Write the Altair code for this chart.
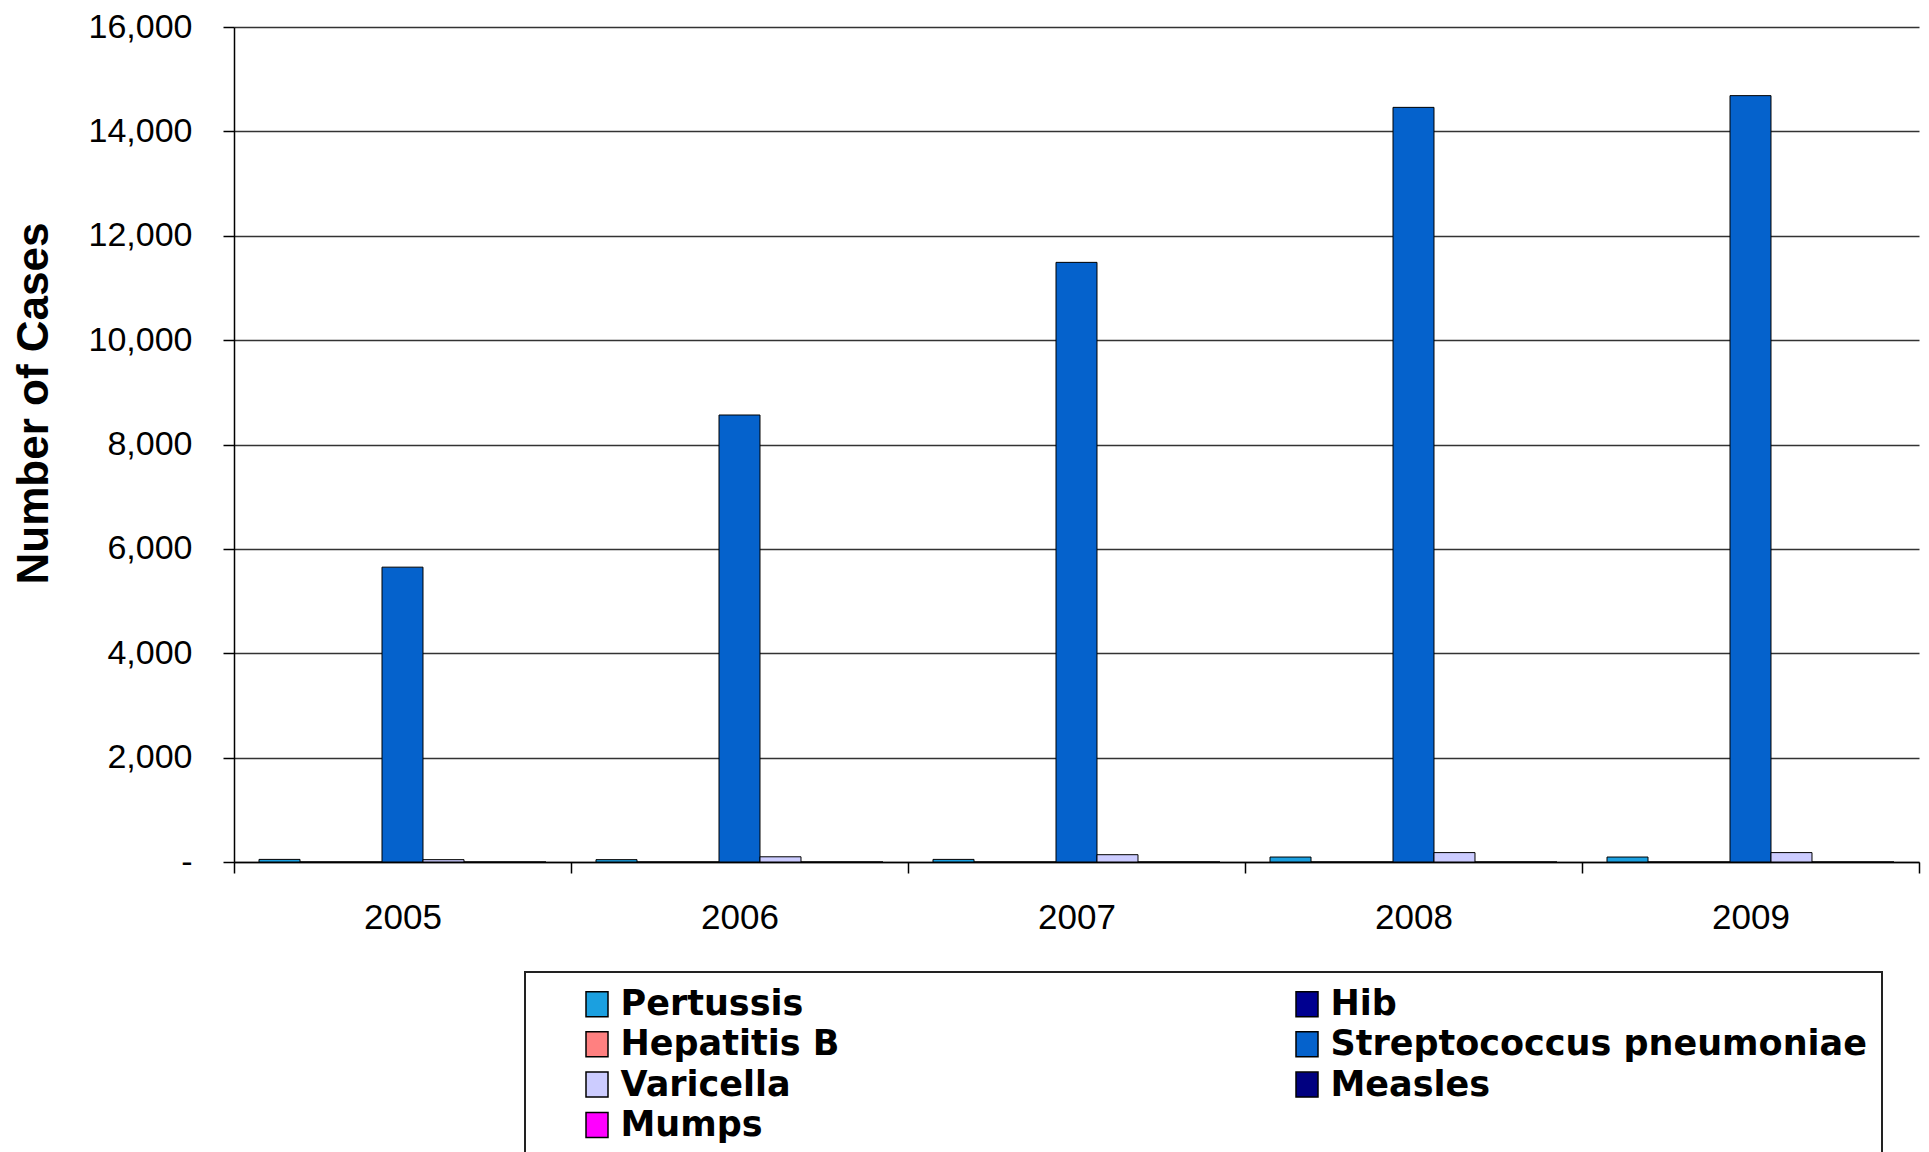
import altair as alt
import pandas as pd

years = ["2005", "2006", "2007", "2008", "2009"]
series = ["Pertussis", "Hib", "Hepatitis B", "Streptococcus pneumoniae",
          "Varicella", "Measles", "Mumps"]
colors = ["#1BA0E0", "#000090", "#FF8080", "#0562CC", "#CCCCFF", "#000080", "#FF00FF"]

pertussis = [50, 45, 50, 95, 95]
hib = [0, 0, 0, 0, 0]
hepatitis_b = [0, 0, 0, 0, 0]
strep = [5650, 8565, 11490, 14460, 14685]
varicella = [45, 100, 140, 180, 180]
measles = [0, 0, 0, 0, 0]
mumps = [0, 0, 0, 0, 0]
y_ticks = [0, 2000, 4000, 6000, 8000, 10000, 12000, 14000, 16000]

values = {
    "Pertussis": pertussis,
    "Hib": hib,
    "Hepatitis B": hepatitis_b,
    "Streptococcus pneumoniae": strep,
    "Varicella": varicella,
    "Measles": measles,
    "Mumps": mumps,
}
rows = []
for s in series:
    for yr, v in zip(years, values[s]):
        rows.append({"Year": yr, "Series": s, "Cases": v})
df = pd.DataFrame(rows)

FONT = "Liberation Sans"
LEGEND_FONT = "DejaVu Sans"
NB = "\u00a0"

chart = alt.Chart(df).mark_bar(stroke="black", strokeWidth=1).encode(
    x=alt.X("Year:N", sort=years,
            scale=alt.Scale(paddingInner=0, paddingOuter=0),
            axis=alt.Axis(title=None, labelAngle=0, tickBand="extent",
                          labelFont=FONT, labelFontSize=35, labelColor="black",
                          labelPadding=27, tickSize=11, tickColor="black",
                          tickWidth=1.5, domainColor="black", domainWidth=1.5,
                          grid=False)),
    xOffset=alt.XOffset("Series:N", sort=series,
                        scale=alt.Scale(paddingOuter=0.61, paddingInner=0)),
    y=alt.Y("Cases:Q",
            scale=alt.Scale(domain=[0, 16000], nice=False),
            axis=alt.Axis(values=y_ticks, title="Number of Cases",
                          labelExpr="datum.value == 0 ? '-" + NB * 4 + "' : format(datum.value, ',')",
                          labelFont=FONT, labelFontSize=34, labelColor="black",
                          labelPadding=31, tickSize=11, tickColor="black",
                          tickWidth=1.5, domainColor="black", domainWidth=1.5,
                          gridColor="#333333", gridWidth=1.5,
                          titleFont=FONT, titleFontSize=44, titleFontWeight="bold",
                          titleColor="black", titleX=-187, titleY=376,
                          titleBaseline="alphabetic")),
    fill=alt.Fill("Series:N", sort=series,
                  scale=alt.Scale(domain=series, range=colors),
                  legend=alt.Legend(title=None, orient="none", legendX=291, legendY=945,
                                    direction="horizontal",
                                    columns=2, columnPadding=410, rowPadding=4.3,
                                    padding=14.5, symbolOffset=40, labelOffset=6,
                                    labelFont=LEGEND_FONT, labelFontSize=35,
                                    labelFontWeight="bold", labelColor="black",
                                    labelLimit=1000, gridAlign="each",
                                    symbolType="M-0.88,-1L0.88,-1L0.88,1L-0.88,1Z",
                                    symbolSize=625, symbolStrokeColor="black",
                                    symbolStrokeWidth=1.5,
                                    strokeColor="#222222", fillColor="white")),
).properties(
    width=1685, height=835,
    padding={"left": 234, "top": 27, "right": 10, "bottom": 290},
    autosize=alt.AutoSizeParams(type="none"),
).configure_view(strokeWidth=0).configure_legend(strokeWidth=2)

chart.save("out.html", embed_options={"renderer": "svg", "actions": False})
